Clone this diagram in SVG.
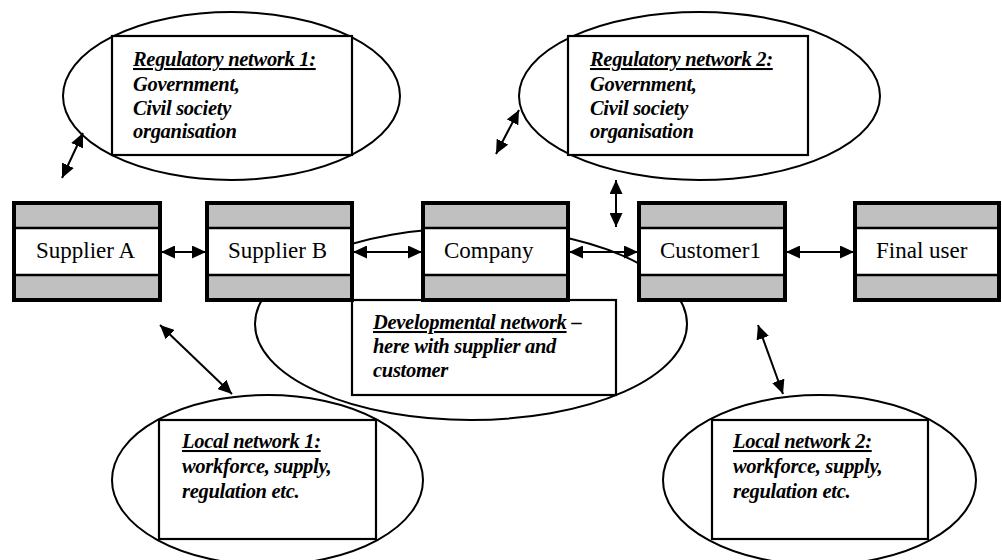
<svg xmlns="http://www.w3.org/2000/svg" width="1002" height="560" viewBox="0 0 1002 560">
<style>
.ell{fill:#fff;stroke:#000;stroke-width:2}
.box{fill:#fff;stroke:#000;stroke-width:2.2}
.lbl{font-family:"Liberation Serif","Times New Roman",serif;font-size:20.5px;font-weight:bold;font-style:italic;fill:#000;letter-spacing:-0.3px}
.u{text-decoration:underline}
.node{fill:#fff;stroke:#000;stroke-width:4}
.band{fill:#c0c0c0;stroke:#000;stroke-width:2.5}
.ntxt{font-family:"Liberation Serif","Times New Roman",serif;font-size:23px;fill:#000}
.arr{stroke:#000;stroke-width:2;fill:none;marker-start:url(#ah);marker-end:url(#ah)}
</style>
<defs>
<marker id="ah" markerUnits="userSpaceOnUse" markerWidth="14" markerHeight="13" refX="14" refY="6.5" orient="auto-start-reverse">
<path d="M0,0 L14,6.5 L0,13 z" fill="#000"/>
</marker>
</defs>

<g id="developmental-network">
<ellipse class="ell" cx="471" cy="324" rx="216" ry="96"/>
</g>

<g id="regulatory-network-1">
<ellipse class="ell" cx="231.5" cy="96" rx="168.5" ry="84"/>
<rect class="box" x="112" y="36" width="240" height="119"/>
<text class="lbl" x="133" y="66"><tspan class="u">Regulatory network 1:</tspan><tspan x="133" dy="24.5">Government,</tspan><tspan x="133" dy="24">Civil society</tspan><tspan x="133" dy="23.5">organisation</tspan></text>
</g>

<g id="regulatory-network-2">
<ellipse class="ell" cx="699.5" cy="96" rx="180.5" ry="84"/>
<rect class="box" x="568" y="36" width="240" height="119"/>
<text class="lbl" x="590" y="66"><tspan class="u">Regulatory network 2:</tspan><tspan x="590" dy="24.5">Government,</tspan><tspan x="590" dy="24">Civil society</tspan><tspan x="590" dy="23.5">organisation</tspan></text>
</g>

<g id="developmental-label">
<rect class="box" x="352" y="300" width="264" height="95"/>
<text class="lbl" x="373" y="329"><tspan class="u">Developmental network</tspan><tspan> –</tspan><tspan x="373" dy="24">here with supplier and</tspan><tspan x="373" dy="24">customer</tspan></text>
</g>

<g id="local-network-1">
<ellipse class="ell" cx="267.5" cy="480" rx="155.5" ry="85"/>
<rect class="box" x="159" y="420" width="217" height="119"/>
<text class="lbl" x="182" y="448"><tspan class="u">Local network 1:</tspan><tspan x="182" dy="25">workforce, supply,</tspan><tspan x="182" dy="25">regulation etc.</tspan></text>
</g>

<g id="local-network-2">
<ellipse class="ell" cx="819.5" cy="480" rx="156.5" ry="85"/>
<rect class="box" x="712" y="420" width="216" height="119"/>
<text class="lbl" x="733" y="448"><tspan class="u">Local network 2:</tspan><tspan x="733" dy="25">workforce, supply,</tspan><tspan x="733" dy="25">regulation etc.</tspan></text>
</g>

<g id="supplier-a">
<rect class="node" x="14" y="203" width="146" height="97"/>
<rect class="band" x="14" y="203" width="146" height="25"/>
<rect class="band" x="14" y="275" width="146" height="25"/>
<rect class="node" x="14" y="203" width="146" height="97" style="fill:none"/>
<text class="ntxt" x="36" y="258">Supplier A</text>
</g>

<g id="supplier-b">
<rect class="node" x="207" y="203" width="145" height="97"/>
<rect class="band" x="207" y="203" width="145" height="25"/>
<rect class="band" x="207" y="275" width="145" height="25"/>
<rect class="node" x="207" y="203" width="145" height="97" style="fill:none"/>
<text class="ntxt" x="228" y="258">Supplier B</text>
</g>

<g id="company">
<rect class="node" x="423" y="203" width="145" height="97"/>
<rect class="band" x="423" y="203" width="145" height="25"/>
<rect class="band" x="423" y="275" width="145" height="25"/>
<rect class="node" x="423" y="203" width="145" height="97" style="fill:none"/>
<text class="ntxt" x="444" y="258">Company</text>
</g>

<g id="customer1">
<rect class="node" x="639" y="203" width="146" height="97"/>
<rect class="band" x="639" y="203" width="146" height="25"/>
<rect class="band" x="639" y="275" width="146" height="25"/>
<rect class="node" x="639" y="203" width="146" height="97" style="fill:none"/>
<text class="ntxt" x="660" y="258">Customer1</text>
</g>

<g id="final-user">
<rect class="node" x="855" y="203" width="144" height="97"/>
<rect class="band" x="855" y="203" width="144" height="25"/>
<rect class="band" x="855" y="275" width="144" height="25"/>
<rect class="node" x="855" y="203" width="144" height="97" style="fill:none"/>
<text class="ntxt" x="876" y="258">Final user</text>
</g>

<g id="connectors">
<line class="arr" x1="161" y1="252" x2="206" y2="252"/>
<line class="arr" x1="353" y1="252" x2="422" y2="252"/>
<line class="arr" x1="569" y1="252" x2="638" y2="252"/>
<line class="arr" x1="786" y1="252" x2="854" y2="252"/>
<line class="arr" x1="62" y1="178" x2="83" y2="133"/>
<line class="arr" x1="496" y1="154" x2="519" y2="110"/>
<line class="arr" x1="616" y1="180" x2="616" y2="227"/>
<line class="arr" x1="160" y1="325" x2="232" y2="394"/>
<line class="arr" x1="758" y1="325" x2="783" y2="394"/>
</g>
</svg>
